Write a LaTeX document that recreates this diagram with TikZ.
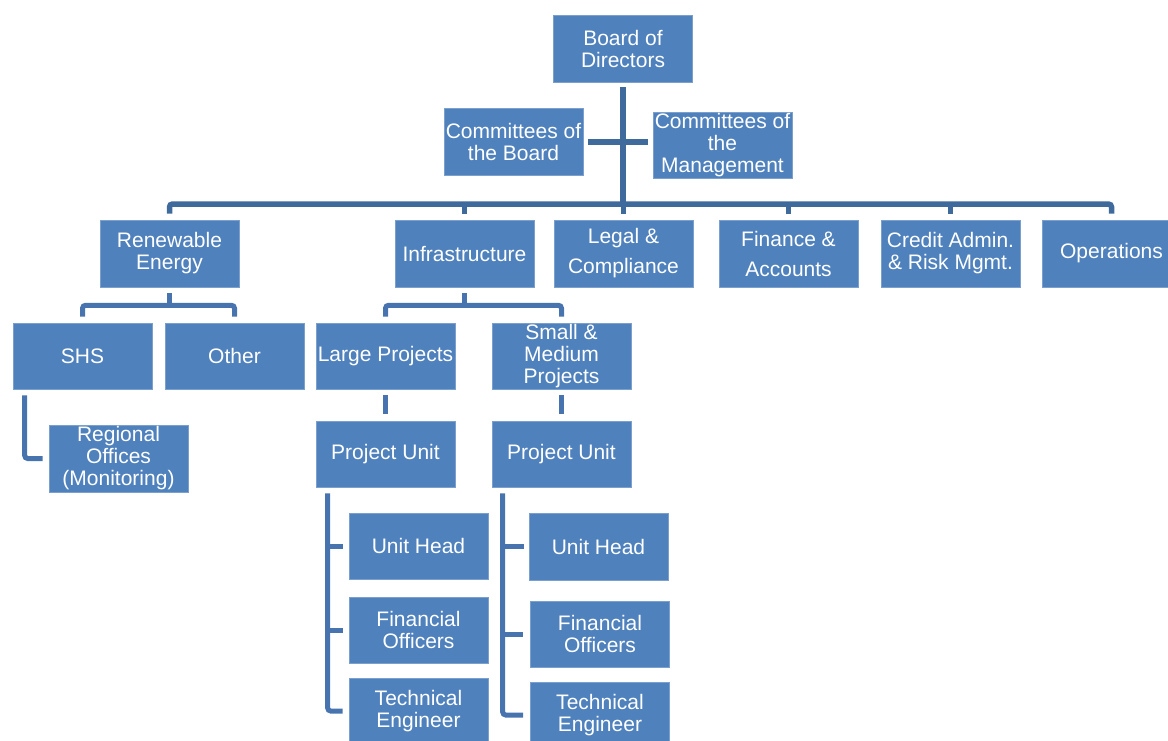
\documentclass[tikz,border=0pt]{standalone}
\usepackage{fontspec}
\setmainfont{Liberation Sans}
\usetikzlibrary{calc}
\definecolor{boxblue}{HTML}{4F81BD}
\definecolor{topline}{HTML}{3E6A9C}
\definecolor{subline}{HTML}{4774AE}
\begin{document}
\begin{tikzpicture}[x=1pt,y=-1pt,
  orgbox/.style={rectangle, fill=boxblue, draw=boxblue!75!white, line width=0.6pt,
    minimum width=139pt, minimum height=66pt, inner sep=0pt, align=center,
    text=white, font=\fontsize{21}{22}\selectfont},
  topconn/.style={draw=topline, line width=5.5pt, rounded corners=3pt},
  subconn/.style={draw=subline, line width=5pt, rounded corners=3pt}]
\useasboundingbox (0,0) rectangle (1168,740);
\clip (0,0) rectangle (1168,740);

% board and committees
\node[orgbox, minimum height=67pt] (board) at (623,48.5) {Board of\\Directors};
\node[orgbox, minimum height=67pt] (cboard) at (513.5,141.5) {Committees of\\the Board};
\node[orgbox] (cmgmt) at (722.5,145) {Committees of\\the\\Management};

% departments
\node[orgbox, minimum height=67pt] (renew)  at (169.5,253.5) {Renewable\\Energy};
\node[orgbox, minimum height=67pt] (infra)  at (464.5,253.5) {Infrastructure};
\node[orgbox, minimum height=67pt] (legal)  at (623.5,253.5) {Legal \&\\[8pt]Compliance};
\node[orgbox, minimum height=67pt] (fin)    at (788.5,253.5) {Finance \&\\[8pt]Accounts};
\node[orgbox, minimum height=67pt] (credit) at (950.5,253.5) {Credit Admin.\\\& Risk Mgmt.};
\node[orgbox, minimum height=67pt] (ops)    at (1111.5,253.5) {Operations};

% renewable energy branch
\node[orgbox] (shs)   at (82.5,356) {SHS};
\node[orgbox] (other) at (234.5,356) {Other};
\node[orgbox, minimum height=67pt] (regional) at (118.5,458.5) {Regional\\Offices\\(Monitoring)};

% infrastructure branch
\node[orgbox] (large) at (385.5,356) {Large Projects};
\node[orgbox] (small) at (561.5,356) {Small \&\\Medium\\Projects};
\node[orgbox] (pu1) at (385.5,454) {Project Unit};
\node[orgbox] (pu2) at (561.5,454) {Project Unit};
\node[orgbox] (uh1) at (418.5,546) {Unit Head};
\node[orgbox] (fo1) at (418.5,630) {Financial\\Officers};
\node[orgbox] (te1) at (418.5,711) {Technical\\Engineer};
\node[orgbox, minimum height=67pt] (uh2) at (598.5,546.5) {Unit Head};
\node[orgbox] (fo2) at (600,634) {Financial\\Officers};
\node[orgbox] (te2) at (600,715) {Technical\\Engineer};

% top level connectors
\coordinate (bar) at (623,204);
\draw[topconn] ($(board.south)+(0,5)$) -- (bar);
\draw[topconn] ($(cboard.east)+(5,0.5)$) -- ($(cboard.east -| cmgmt.west)+(-5,0.5)$);
\draw[topconn] ($(renew.north)+(0,-6)$) |- (bar) -| ($(ops.north)+(0,-6)$);
\foreach \d in {infra,legal,fin,credit}
  \draw[topconn] ($(\d.north)+(0,-6)$) -- (\d.north |- bar);

% renewable energy connectors
\draw[subconn] ($(renew.south)+(0,6)$) -- ($(renew.south)+(0,18)$);
\draw[subconn] ($(shs.north)+(0,-6)$) |- ($(renew.south)+(0,18)$) -| ($(other.north)+(0,-6)$);
\draw[subconn] ($(shs.south west)+(12,6)$) |- ($(regional.west)+(-6,0)$);

% infrastructure connectors
\draw[subconn] ($(infra.south)+(0,6)$) -- ($(infra.south)+(0,18)$);
\draw[subconn] ($(large.north)+(0,-6)$) |- ($(infra.south)+(0,18)$) -| ($(small.north)+(0,-6)$);
\draw[subconn] ($(large.south)+(0,6)$) -- ($(pu1.north)+(0,-7)$);
\draw[subconn] ($(small.south)+(0,6)$) -- ($(pu2.north)+(0,-7)$);

% project unit staff
\coordinate (v1) at ($(pu1.south west)+(12,6)$);
\draw[subconn] (v1) |- ($(te1.west)+(-6,0)$);
\draw[subconn] (uh1.west -| v1) -- ($(uh1.west)+(-6,0)$);
\draw[subconn] (fo1.west -| v1) -- ($(fo1.west)+(-6,0)$);

\coordinate (v2) at ($(pu2.south west)+(11,6)$);
\draw[subconn] (v2) |- ($(te2.west)+(-7,0)$);
\draw[subconn] (uh2.west -| v2) -- ($(uh2.west)+(-5,0)$);
\draw[subconn] (fo2.west -| v2) -- ($(fo2.west)+(-7,0)$);
\end{tikzpicture}
\end{document}
